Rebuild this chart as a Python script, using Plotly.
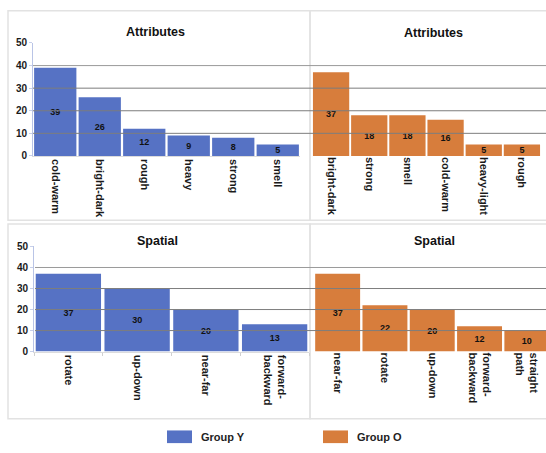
import plotly.graph_objects as go

# ---- data -------------------------------------------------------------
attr_y_labels = ["cold-warm", "bright-dark", "rough", "heavy", "strong", "smell"]
attr_y_values = [39, 26, 12, 9, 8, 5]

attr_o_labels = ["bright-dark", "strong", "smell", "cold-warm", "heavy-light", "rough"]
attr_o_values = [37, 18, 18, 16, 5, 5]

spat_y_labels = ["rotate", "up-down", "near-far", "forward-<br>backward"]
spat_y_values = [37, 30, 20, 13]

spat_o_labels = ["near-far", "rotate", "up-down", "forward-<br>backward", "straight<br>path"]
spat_o_values = [37, 22, 20, 12, 10]

y_ticks = [0, 10, 20, 30, 40, 50]
grid_levels = [10, 20, 30, 40]

group_names = ["Group Y", "Group O"]
BLUE = "#5672C4"
ORANGE = "#D77D3C"

# ---- page geometry (pixels -> paper) -----------------------------------
W, H = 546, 453
def fx(px):
    return px / W
def fy(py):
    return 1 - py / H

FONT = "Liberation Sans, Arial, sans-serif"

fig = go.Figure()

def add_bars(labels, values, color, xa, ya):
    fig.add_trace(go.Bar(
        x=labels, y=values, text=values,
        marker=dict(color=color, line=dict(width=0)),
        textposition="inside", insidetextanchor="middle",
        textangle=0, constraintext="none",
        textfont=dict(family=FONT, size=9, color="#111", weight="bold"),
        xaxis=xa, yaxis=ya, showlegend=False, hoverinfo="x+y",
    ))

add_bars(attr_y_labels, attr_y_values, BLUE, "x", "y")
add_bars(attr_o_labels, attr_o_values, ORANGE, "x2", "y2")
add_bars(spat_y_labels, spat_y_values, BLUE, "x3", "y3")
add_bars(spat_o_labels, spat_o_values, ORANGE, "x4", "y4")

tickfont = dict(family=FONT, size=11, color="#1a1a1a", weight="bold")
ytickfont = dict(family=FONT, size=10, color="#1a1a1a", weight="bold")

def xaxis(domain, rng, showline=False, ticks=""):
    return dict(domain=domain, range=rng, type="category", tickangle=90,
                tickfont=tickfont, showgrid=False, zeroline=False,
                showline=showline, linecolor="#dcdcdc", linewidth=1,
                ticks=ticks, tickson="boundaries", ticklen=3,
                tickcolor="#d0d0d0", fixedrange=True)

def yaxis(domain, visible=True, match=None):
    d = dict(domain=domain, range=[0, 50], tickvals=y_ticks,
             tickfont=ytickfont, showgrid=False, zeroline=False,
             showline=visible, linecolor="#b9c4e6", linewidth=1,
             ticks="outside" if visible else "", ticklen=3,
             tickcolor="#c8d0ea", visible=visible, fixedrange=True)
    if match:
        d["matches"] = match
    return d

top_dom = [fy(154), fy(38)]
bot_dom = [fy(355), fy(247)]

fig.update_layout(
    width=W, height=H, autosize=False,
    margin=dict(l=0, r=0, t=0, b=0),
    paper_bgcolor="white", plot_bgcolor="rgba(0,0,0,0)",
    bargap=0.05,
    uniformtext=dict(mode="show", minsize=9),
    font=dict(family=FONT),
    xaxis=xaxis([fx(33), fx(300)], [-0.5, 5.5], showline=True),
    yaxis=yaxis(top_dom),
    xaxis2=dict(xaxis([fx(312), fx(541)], [-0.5, 5.5]), anchor="y2"),
    yaxis2=dict(yaxis(top_dom, visible=False, match="y"), anchor="x2"),
    xaxis3=dict(xaxis([fx(34), fx(309)], [-0.5, 3.5], showline=True,
                      ticks="outside"), anchor="y3"),
    yaxis3=dict(yaxis(bot_dom), anchor="x3"),
    xaxis4=dict(xaxis([fx(314), 1], [-0.5, 4.405]), anchor="y4"),
    yaxis4=dict(yaxis(bot_dom, visible=False, match="y3"), anchor="x4"),
)
fig.layout.xaxis.anchor = "y"
fig.layout.yaxis.anchor = "x"

shapes = []
# panel frames
for (x0, y0, x1, y1) in [(8, 5, 310, 220), (310, 5, 550, 220),
                         (8, 224, 310, 424), (310, 224, 550, 424)]:
    shapes.append(dict(type="rect", xref="paper", yref="paper",
                       x0=fx(x0), x1=fx(x1), y0=fy(y1), y1=fy(y0),
                       line=dict(color="#e2e2e2", width=1.5), layer="below"))

# horizontal grid lines drawn across each row, over the bars
for yref, xstart in [("y", 33), ("y3", 35)]:
    for lv in grid_levels:
        shapes.append(dict(type="line", xref="paper", yref=yref,
                           x0=fx(xstart), x1=1, y0=lv, y1=lv,
                           line=dict(color="#7d7d7d" if lv < 40 else "#9a9a9a",
                                     width=1),
                           layer="above"))

# legend swatches
for (x0, color) in [(167, BLUE), (323, ORANGE)]:
    shapes.append(dict(type="rect", xref="paper", yref="paper",
                       x0=fx(x0), x1=fx(x0 + 25), y0=fy(449), y1=fy(436),
                       fillcolor=color, line=dict(width=0)))
fig.update_layout(shapes=shapes)

annotations = []
title_font = dict(family=FONT, size=12.5, color="#111", weight="bold")
for text, x, y in [("Attributes", 155, 27), ("Attributes", 433, 28),
                   ("Spatial", 157, 241), ("Spatial", 434, 241)]:
    annotations.append(dict(text=text, xref="paper", yref="paper",
                            x=fx(x), y=fy(y), xanchor="center", yanchor="middle",
                            showarrow=False, font=title_font))
for name, x in zip(group_names, [199, 355]):
    annotations.append(dict(text=name, xref="paper", yref="paper",
                            x=fx(x), y=fy(443), xanchor="left", yanchor="middle",
                            showarrow=False,
                            font=dict(family=FONT, size=11, color="#222",
                                      weight="bold")))
fig.update_layout(annotations=annotations)

fig.write_html("out.html")
